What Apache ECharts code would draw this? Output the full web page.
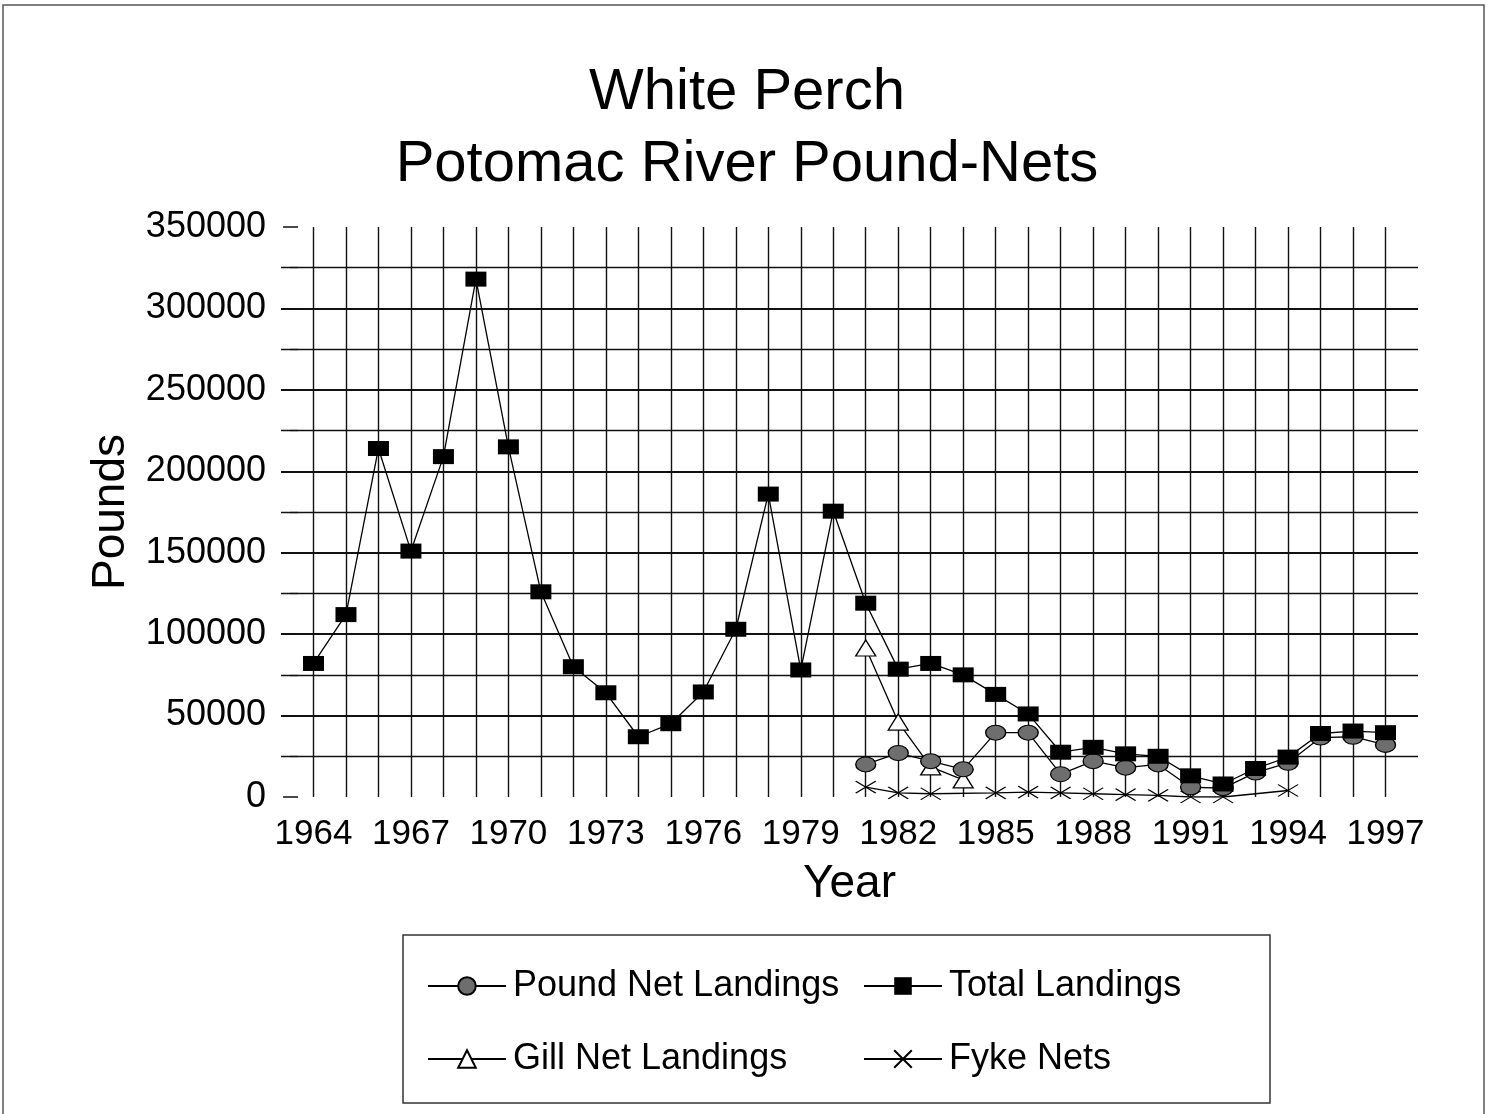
<!DOCTYPE html>
<html><head><meta charset="utf-8">
<script src="https://cdn.jsdelivr.net/npm/echarts@6/dist/echarts.min.js"></script>
<style>html,body{margin:0;padding:0;background:#fff}#c{width:1494px;height:1114px}</style>
</head><body><div id="c"></div>
<script>
const years = [1964,1965,1966,1967,1968,1969,1970,1971,1972,1973,1974,1975,1976,1977,1978,1979,1980,1981,1982,1983,1984,1985,1986,1987,1988,1989,1990,1991,1992,1993,1994,1995,1996,1997];
const totalLandings = [82000,112000,214000,151000,209000,318000,215000,126000,80000,64000,37000,45000,64500,103000,186000,78000,175500,119000,78500,82000,75000,63000,51000,27500,30500,26500,25000,13000,8000,17500,24500,39000,40500,39500];
const poundNetLandings = [null,null,null,null,null,null,null,null,null,null,null,null,null,null,null,null,null,20000,27000,22000,17000,39500,39500,14000,22000,18000,20000,6000,5500,15000,21000,36500,37000,32000];
const gillNetLandings = [null,null,null,null,null,null,null,null,null,null,null,null,null,null,null,null,null,91500,46000,18500,10500,null,null,null,null,null,null,null,null,null,null,null,null,null];
const fykeNets = [null,null,null,null,null,null,null,null,null,null,null,null,null,null,null,null,null,6000,2500,2000,null,2500,3000,2500,2000,1500,1000,0,0,null,4000,null,null,null];
const yearLabels = [1964,1967,1970,1973,1976,1979,1982,1985,1988,1991,1994,1997];

function pairs(arr){ return years.map((y,i)=>[y, arr[i]]); }

const FONT = '"Liberation Sans", Arial, sans-serif';
const chart = echarts.init(document.getElementById('c'), null, {renderer:'canvas'});
const xSplitColors = []; for (let y=1963; y<=1998; y++) xSplitColors.push((y===1963||y===1998)?'rgba(0,0,0,0)':'#111');
const ySplitColors = []; for (let v=0; v<=350000; v+=50000) ySplitColors.push((v===0||v===350000)?'rgba(0,0,0,0)':'#111');
const lineBase = {type:'line', connectNulls:true, lineStyle:{color:'#000', width:1.3}, emphasis:{disabled:true}, animation:false};
const legendBase = {orient:'vertical', top:963, itemWidth:78, itemHeight:22, itemGap:37,
  textStyle:{fontFamily:FONT, fontSize:36, color:'#000', padding:[0,0,0,2]}, selectedMode:false};

chart.setOption({
  backgroundColor:'#fff',
  animation:false,
  title:{
    text:'White Perch\nPotomac River Pound-Nets',
    left: 742, textAlign:'center', top: 52,
    textStyle:{fontFamily:FONT, fontSize:58, fontWeight:'normal', color:'#000', lineHeight:72}
  },
  grid:{left:281, top:227, width:1137, height:570, containLabel:false},
  xAxis:{
    type:'value', min:1963, max:1998, interval:1,
    axisLine:{show:false}, axisTick:{show:false},
    splitLine:{show:true, lineStyle:{color:xSplitColors, width:1.4}},
    axisLabel:{fontFamily:FONT, fontSize:35, color:'#000', margin:20,
      formatter:v => yearLabels.indexOf(v) >= 0 ? String(v) : ''},
    name:'Year', nameLocation:'middle', nameGap:64,
    nameTextStyle:{fontFamily:FONT, fontSize:46, color:'#000'}
  },
  yAxis:{
    type:'value', min:0, max:350000, interval:50000, offset:-17,
    axisLine:{show:false},
    axisTick:{show:true, inside:false, length:15, lineStyle:{color:'#111', width:1.5}},
    minorTick:{show:true, splitNumber:2, length:8, lineStyle:{color:'#111', width:1.3}},
    splitLine:{show:true, lineStyle:{color:ySplitColors, width:2}},
    minorSplitLine:{show:true, lineStyle:{color:'#111', width:1.3}},
    axisLabel:{fontFamily:FONT, fontSize:36, color:'#000', margin:32, formatter:v => String(v)},
    name:'Pounds', nameLocation:'middle', nameGap:164, nameRotate:90,
    nameTextStyle:{fontFamily:FONT, fontSize:46, color:'#000'}
  },
  legend:[
    Object.assign({}, legendBase, {left:422, data:['Pound Net Landings','Gill Net Landings']}),
    Object.assign({}, legendBase, {left:858, data:['Total Landings','Fyke Nets']})
  ],
  graphic:[
    {type:'rect', shape:{x:3, y:5, width:1481, height:1120}, style:{fill:null, stroke:'#555', lineWidth:1.5}, silent:true},
    {type:'rect', shape:{x:403, y:935, width:867, height:168}, style:{fill:null, stroke:'#333', lineWidth:1.5}, silent:true}
  ],
  series:[
    Object.assign({}, lineBase, {name:'Fyke Nets', data:pairs(fykeNets), z:2,
      symbol:'path://M0,0L10,6M10,0L0,6', symbolSize:[20,12],
      itemStyle:{color:'rgba(0,0,0,0)', borderColor:'#000', borderWidth:1.3}}),
    Object.assign({}, lineBase, {name:'Gill Net Landings', data:pairs(gillNetLandings), z:3,
      symbol:'triangle', symbolSize:[20,16],
      itemStyle:{color:'#fff', borderColor:'#000', borderWidth:1.3}}),
    Object.assign({}, lineBase, {name:'Pound Net Landings', data:pairs(poundNetLandings), z:4,
      symbol:'circle', symbolSize:[20,15],
      itemStyle:{color:'#6e6e6e', borderColor:'#000', borderWidth:1.2}}),
    Object.assign({}, lineBase, {name:'Total Landings', data:pairs(totalLandings), z:5,
      symbol:'rect', symbolSize:[21,15],
      itemStyle:{color:'#000', borderColor:'#000', borderWidth:0}})
  ]
});
</script></body></html>
